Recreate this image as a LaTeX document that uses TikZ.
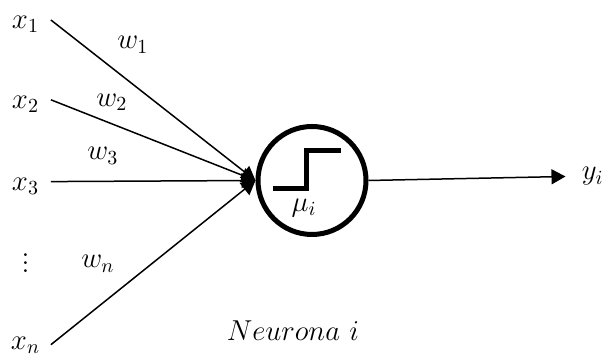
\documentclass[tikz,border=0pt]{standalone}
\usetikzlibrary{positioning, arrows.meta}

\begin{document}
\begin{tikzpicture}[font=\Large, node distance=10pt,
	c/.style={circle, draw, line width=2.5pt, minimum size=54pt, inner sep=0pt},
	v/.style={inner sep=0pt, minimum width=25pt, text height=10.5pt, text depth=2pt},
	l/.style={inner sep=0pt},
	s/.style={line width=.75pt},
	a/.style={s, -{Triangle[length=7pt, width=7.5pt]}}]
		\useasboundingbox (0pt,0pt) rectangle (301pt,-178pt);

		\node[c] (N) at (156pt,-90.25pt) {};
		\node[below=9pt of N.center, xshift=-4pt, l] (N_label) {$\mu_i$};
		\node[below=41.5pt of N, xshift=-9.5pt, l] (N_name) {$Neurona\ i$};

		\node[v] (x1) at (12.75pt,-10pt) {$x_1$};
		\node[v, below=27pt of x1] (x2) {$x_2$};
		\node[v, below=28pt of x2] (x3) {$x_3$};
		\node[v, below=28.25pt of x3] (dots) {$\vdots$};
		\node[v, below=27.5pt of dots, text height=8.5pt, text depth=4pt] (xn) {$x_n$};

		\node[below right=1.5pt and 33pt of x1, l] (w1) {$w_1$};
		\node[above right=-12pt and 22.5pt of x2, l] (w2) {$w_2$};
		\node[above right=2pt and 18pt of x3, l] (w3) {$w_3$};
		\node[right=15pt of dots, l] (wn) {$w_n$};
		\node[right=98.5pt of N, yshift=2pt, inner sep=8pt, inner ysep=0pt] (y) {$y_i$};

		\draw[a] (x1.east) -- (N.west);
		\draw[a] (x2.east) -- (N.west);
		\draw[a] (x3.east) -- (N.west);
		\draw[a] (xn.east) -- (N.west);
		\draw[a] (N.east) -- (y.west);
		\draw[line width=2.5pt] ([shift={(-19.5pt,-4pt)}]N.center) -- ++(17pt,0) -- ++(0,19pt) -- ++(17pt,0);
	\end{tikzpicture}
\end{document}
